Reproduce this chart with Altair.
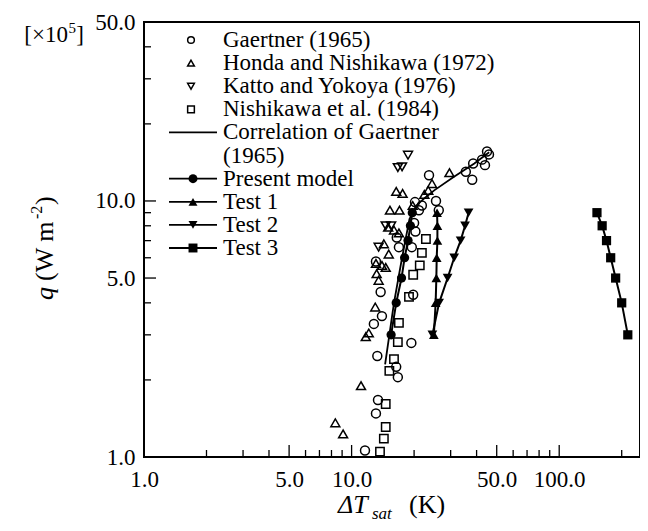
import altair as alt
import pandas as pd

FONT = "Liberation Serif"

# ---------------- data (ΔT_sat in K, q in 1e5 W m^-2) ----------------
gaertner_dT = [11.6, 13.1, 13.4, 13.3, 16.4, 16.7, 19.4, 12.8, 14.0, 13.8, 19.8, 13.1, 16.9, 16.5,
               19.5, 20.3, 20.0, 21.1, 20.2, 21.8, 25.5, 26.3, 23.6, 35.5, 38.1, 38.5, 42.5, 43.9, 44.9, 45.9]
gaertner_q = [1.06, 1.48, 1.67, 2.48, 2.25, 2.05, 2.79, 3.31, 3.55, 4.41, 4.30, 5.8, 6.6, 7.2,
              6.6, 7.6, 8.2, 9.2, 9.9, 9.6, 10.0, 9.2, 12.6, 13.0, 12.1, 14.0, 14.5, 13.8, 15.6, 15.2]

honda_dT = [8.35, 9.1, 11.1, 11.7, 12.1, 13.0, 13.2, 13.5, 13.1, 14.0, 14.6, 15.1, 14.3, 15.0,
            16.0, 16.9, 15.3, 17.0, 16.4, 17.6, 19.7, 22.4, 23.4, 24.4, 29.6]
honda_q = [1.36, 1.23, 1.90, 2.95, 3.05, 3.85, 5.2, 4.9, 5.7, 5.6, 5.5, 6.2, 6.8, 7.9,
           7.7, 7.5, 9.2, 9.2, 10.9, 10.7, 9.6, 10.6, 11.0, 11.7, 12.9]

katto_dT = [18.7, 16.7, 17.5, 14.6, 15.5, 13.5]
katto_q = [15.1, 13.5, 13.6, 8.0, 8.0, 6.6]

nish_dT = [13.7, 14.3, 14.6, 14.6, 15.2, 16.0, 16.7, 16.9, 18.9, 19.8, 21.3, 21.8, 22.8]
nish_q = [1.05, 1.18, 1.31, 1.61, 2.17, 2.41, 2.81, 3.34, 4.22, 5.15, 5.6, 6.27, 7.1]

corr_dT = [14.5, 16.0, 17.5, 19.0, 20.5, 22.6, 25.0, 31.0, 39.0, 46.0]
corr_q = [2.3, 4.0, 6.0, 8.5, 9.6, 10.3, 11.0, 12.4, 14.0, 15.5]

model_q = [3, 4, 5, 6, 7, 8, 9]
model_dT = [15.5, 16.4, 17.4, 18.0, 18.7, 19.2, 19.6]
test1_dT = [24.9, 25.4, 25.6, 25.7, 25.9, 25.9, 25.8]
test2_dT = [24.5, 26.4, 29.0, 31.2, 33.5, 35.2, 36.6]
test3_dT = [214, 200, 187, 177, 169, 161, 152]

x_domain = [1, 245]
y_domain = [1, 50]
x_label_vals = [1, 5, 10, 50, 100]
y_label_vals = [1, 5, 10, 50]
x_minor = [2, 3, 4, 6, 7, 8, 9, 20, 30, 40, 60, 70, 80, 90, 200]
x_major = [5, 10, 50, 100]
y_minor = [2, 3, 4, 6, 7, 8, 9, 20, 30, 40]
y_major = [5, 10]

legend_labels = ["Gaertner (1965)", "Honda and Nishikawa (1972)", "Katto and Yokoya (1976)",
                 "Nishikawa et al. (1984)", "Correlation of Gaertner", "(1965)",
                 "Present model", "Test 1", "Test 2", "Test 3"]
open_rows = [0, 1, 2, 3]
filled_rows = [6, 7, 8, 9]
line_rows = [4, 6, 7, 8, 9]
row_shapes = ["circle", "triangle-up", "triangle-down", "square"]

# ---------------- layout ----------------
W, H = 496, 435
xscale = alt.Scale(type="log", domain=x_domain, nice=False)
yscale = alt.Scale(type="log", domain=y_domain, nice=False)

xaxis = alt.Axis(values=x_label_vals, format=".1f", labelFlush=False, labelOverlap=False,
                 ticks=False, domain=False, grid=False, labelPadding=11,
                 labelFont=FONT, labelFontSize=23, labelColor="black", title=None)
yaxis = alt.Axis(values=y_label_vals, format=".1f", labelFlush=False, labelOverlap=False,
                 ticks=False, domain=False, grid=False, labelPadding=9,
                 labelFont=FONT, labelFontSize=23, labelColor="black", title=None)


def XY():
    return dict(x=alt.X("dT:Q", scale=xscale, axis=xaxis),
                y=alt.Y("q:Q", scale=yscale, axis=yaxis))


def points(dx, qy, shape, filled, size, sw=1.5):
    df = pd.DataFrame({"dT": dx, "q": qy})
    return alt.Chart(df).mark_point(shape=shape, filled=filled, size=size, color="black",
                                    strokeWidth=sw, opacity=1).encode(**XY())


def line(dx, qy, sw=2):
    df = pd.DataFrame({"dT": dx, "q": qy})
    return alt.Chart(df).mark_line(color="black", strokeWidth=sw).encode(
        order=alt.Order("q:Q"), **XY())


def xrules(vals, y1, y2, sw=1.3):
    df = pd.DataFrame({"dT": vals})
    return alt.Chart(df).mark_rule(color="black", strokeWidth=sw).encode(
        x=alt.X("dT:Q", scale=xscale, axis=xaxis), y=alt.value(y1), y2=alt.value(y2))


def yrules(vals, x1, x2, sw=1.3):
    df = pd.DataFrame({"q": vals})
    return alt.Chart(df).mark_rule(color="black", strokeWidth=sw).encode(
        y=alt.Y("q:Q", scale=yscale, axis=yaxis), x=alt.value(x1), x2=alt.value(x2))


# frame: closed path through the corners of the scale domains
frame_df = pd.DataFrame({
    "dT": [x_domain[0], x_domain[1], x_domain[1], x_domain[0], x_domain[0]],
    "q": [y_domain[0], y_domain[0], y_domain[1], y_domain[1], y_domain[0]],
    "k": [0, 1, 2, 3, 4],
})
frame = alt.Chart(frame_df).mark_line(color="black", strokeWidth=2).encode(
    order="k:Q", **XY())

main = alt.layer(
    frame,
    # inward ticks
    xrules(x_minor, H, H - 7), xrules(x_major, H, H - 12),
    yrules(y_minor, 0, 7), yrules(y_major, 0, 12),
    line(corr_dT, corr_q, 1.8),
    points(gaertner_dT, gaertner_q, "circle", False, 80),
    points(honda_dT, honda_q, "triangle-up", False, 80),
    points(katto_dT, katto_q, "triangle-down", False, 80),
    points(nish_dT, nish_q, "square", False, 70),
    line(model_dT, model_q), points(model_dT, model_q, "circle", True, 85),
    line(test1_dT, model_q), points(test1_dT, model_q, "triangle-up", True, 95),
    line(test2_dT, model_q), points(test2_dT, model_q, "triangle-down", True, 95),
    line(test3_dT, model_q), points(test3_dT, model_q, "square", True, 85),
)

# ---------------- legend (own row scale) ----------------
legscale = alt.Scale(domain=[0, 9], range=[18, 226])
leg_df = pd.DataFrame({"row": list(range(len(legend_labels))), "label": legend_labels})
open_df = pd.DataFrame({"row": open_rows, "shape": row_shapes})
filled_df = pd.DataFrame({"row": filled_rows, "shape": row_shapes})
line_df = pd.DataFrame({"row": line_rows})
rowY = alt.Y("row:Q", scale=legscale, axis=None)

leg_text = alt.Chart(leg_df).mark_text(align="left", baseline="middle", font=FONT, fontSize=23,
                                       color="black").encode(x=alt.value(79), y=rowY, text="label:N")
leg_lines = alt.Chart(line_df).mark_rule(color="black", strokeWidth=1.8).encode(
    x=alt.value(25), x2=alt.value(73), y=rowY)
leg_open = alt.Chart(open_df).mark_point(filled=False, size=45, color="black", strokeWidth=1.5,
                                         opacity=1).encode(
    x=alt.value(47), y=rowY, shape=alt.Shape("shape:N", scale=None))
leg_filled = alt.Chart(filled_df).mark_point(filled=True, size=80, color="black", opacity=1).encode(
    x=alt.value(49), y=rowY, shape=alt.Shape("shape:N", scale=None))

one = pd.DataFrame({"k": [0]})


def label(text, x, y, size=25, style="normal", angle=0, align="left", baseline="alphabetic"):
    return alt.Chart(one).mark_text(text=text, font=FONT, fontSize=size, fontStyle=style,
                                    angle=angle, align=align, baseline=baseline,
                                    color="black").encode(x=alt.value(x), y=alt.value(y))


titles = alt.layer(
    # x title
    label("ΔT", 194, 491, 26, "italic"),
    label("sat", 228, 497, 17, "italic"),
    label("(K)", 265, 491, 26),
    # y title (rotated)
    label("q", -91, 278, 26, "italic", 270),
    label("(W m", -91, 259, 26, "normal", 270),
    label("-2", -102, 197, 16, "normal", 270),
    label(")", -91, 183, 26, "normal", 270),
    # multiplier
    label("]", -60, 20, 23, "normal", 0, "right"),
    label("5", -68, 11, 15, "normal", 0, "right"),
    label("[×10", -76, 20, 23, "normal", 0, "right"),
)

legend = alt.layer(leg_lines, leg_open, leg_filled, leg_text, titles)

chart = alt.layer(main, legend).resolve_scale(x="independent", y="independent").properties(
    width=W, height=H,
    autosize=alt.AutoSizeParams(type="none"),
    padding={"left": 136, "top": 14, "right": 0, "bottom": 66},
).configure_view(stroke="black", strokeWidth=2)

chart.save("out.html", embed_options={"renderer": "svg", "actions": False})
